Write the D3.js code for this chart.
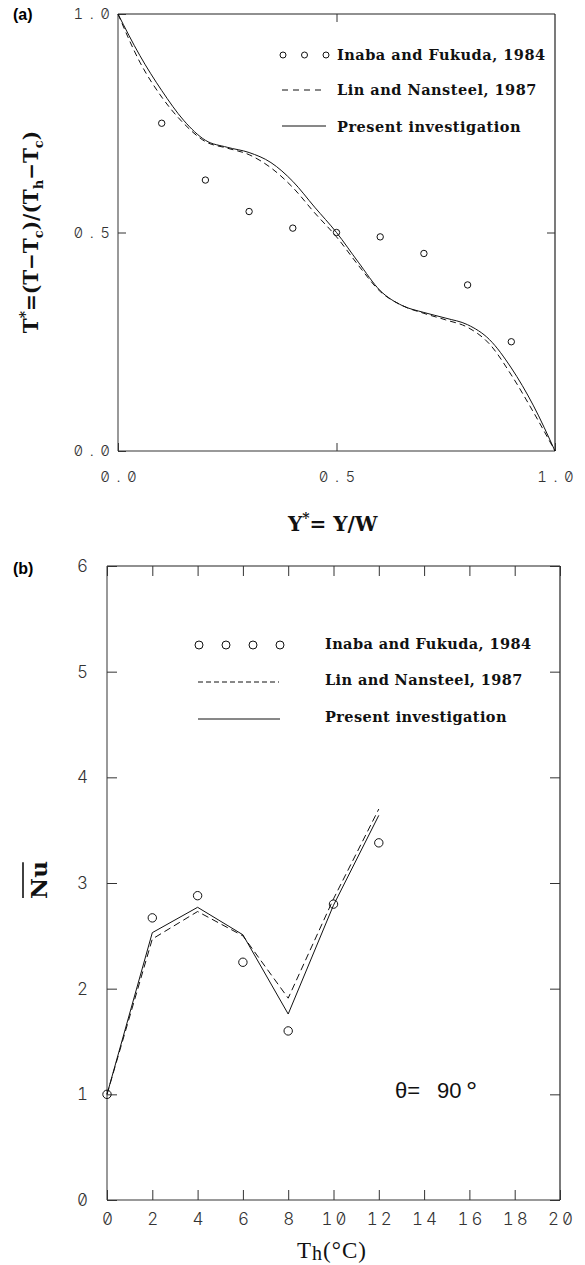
<!DOCTYPE html>
<html>
<head>
<meta charset="utf-8">
<script src="https://d3js.org/d3.v7.min.js"></script>
<style>
  body { margin: 0; background: #fff; }
  .tick text { font-family: Inter, "Noto Sans", sans-serif; font-weight: 300; fill: #333;
               font-variant-numeric: tabular-nums slashed-zero; font-feature-settings: "zero" 1, "tnum" 1; }
  .lbl { font-family: "DejaVu Serif", serif; font-weight: bold; fill: #111; }
</style>
</head>
<body>
<div id="chart-area"></div>
<script>
// ---- data, panel (a): temperature profile
var seriesNames = ["Inaba and Fukuda, 1984", "Lin and Nansteel, 1987", "Present investigation"];

var aX      = [0, 0.05, 0.1, 0.15, 0.2, 0.25, 0.3, 0.35, 0.4, 0.45, 0.5, 0.55, 0.6, 0.65, 0.7, 0.75, 0.8, 0.85, 0.9, 0.95, 1.0];
var aSolid  = [1.0, 0.905, 0.825, 0.757, 0.711, 0.695, 0.683, 0.660, 0.617, 0.558, 0.50, 0.432, 0.367, 0.333, 0.317, 0.304, 0.289, 0.255, 0.190, 0.105, 0.0];
var aDashed = [1.0, 0.890, 0.810, 0.750, 0.708, 0.693, 0.678, 0.648, 0.603, 0.545, 0.49, 0.425, 0.365, 0.333, 0.315, 0.300, 0.283, 0.245, 0.174, 0.090, 0.0];
var aExpX   = [0.1, 0.2, 0.3, 0.4, 0.5, 0.6, 0.7, 0.8, 0.9];
var aExp    = [0.75, 0.62, 0.548, 0.51, 0.50, 0.49, 0.452, 0.38, 0.25];
var aTicks  = [0, 0.5, 1];

// ---- data, panel (b): mean Nusselt number vs Th
var bX      = [0, 2, 4, 6, 8, 10, 12];
var bSolid  = [1.0, 2.53, 2.77, 2.51, 1.76, 2.79, 3.64];
var bDashed = [1.0, 2.47, 2.73, 2.50, 1.91, 2.85, 3.70];
var bExp    = [1.0, 2.67, 2.88, 2.25, 1.60, 2.80, 3.38];
var bXTicks = [0, 2, 4, 6, 8, 10, 12, 14, 16, 18, 20];
var bYTicks = [0, 1, 2, 3, 4, 5, 6];

var svg = d3.select("#chart-area")
    .append("svg")
        .attr("width", 585)
        .attr("height", 1265);

function zip(xs, ys) {
    return xs.map(function(x, i) { return [x, ys[i]]; });
}

function frame(x, y) {
    var x0 = x.range()[0], x1 = x.range()[1], y0 = y.range()[0], y1 = y.range()[1];
    svg.append("line").attr("x1", x0).attr("x2", x1).attr("y1", y0).attr("y2", y0)
        .attr("stroke", "#777").attr("stroke-width", 1.5);
    svg.append("line").attr("x1", x0).attr("x2", x0).attr("y1", y0).attr("y2", y1)
        .attr("stroke", "#777").attr("stroke-width", 1.5);
    svg.append("line").attr("x1", x0).attr("x2", x1).attr("y1", y1).attr("y2", y1)
        .attr("stroke", "#222").attr("stroke-width", 1.2);
    svg.append("line").attr("x1", x1).attr("x2", x1).attr("y1", y0).attr("y2", y1)
        .attr("stroke", "#222").attr("stroke-width", 1.2);
}

function styleTicks(g) {
    g.select(".domain").remove();
    g.selectAll(".tick line").attr("stroke", "#333");
}

/* ================= Panel (a) ================= */
var xA = d3.scaleLinear().domain([0, 1]).range([118, 555]);
var yA = d3.scaleLinear().domain([0, 1]).range([451, 14]);
var fmtA = d3.format(".1f");

frame(xA, yA);

svg.append("g")
    .attr("transform", "translate(0, 451)")
    .call(d3.axisBottom(xA).tickValues(aTicks).tickSizeInner(-8).tickSizeOuter(0).tickPadding(20).tickFormat(fmtA))
    .call(styleTicks)
    .selectAll("text").attr("font-size", 15).attr("letter-spacing", 6.5).attr("dx", 3.2);
svg.append("g")
    .attr("transform", "translate(118, 0)")
    .call(d3.axisLeft(yA).tickValues(aTicks).tickSizeInner(-8).tickSizeOuter(0).tickPadding(1.5).tickFormat(fmtA))
    .call(styleTicks)
    .selectAll("text").attr("font-size", 15).attr("letter-spacing", 6.5);
svg.append("g")
    .attr("transform", "translate(0, 14)")
    .call(d3.axisTop(xA).tickValues([0.5]).tickSizeInner(-8).tickSizeOuter(0).tickFormat(""))
    .call(styleTicks);
svg.append("g")
    .attr("transform", "translate(555, 0)")
    .call(d3.axisRight(yA).tickValues([0.5]).tickSizeInner(-8).tickSizeOuter(0).tickFormat(""))
    .call(styleTicks);

var lineA = d3.line()
    .x(function(d) { return xA(d[0]); })
    .y(function(d) { return yA(d[1]); })
    .curve(d3.curveMonotoneX);

svg.append("path")
    .attr("d", lineA(zip(aX, aDashed)))
    .attr("fill", "none").attr("stroke", "#111").attr("stroke-width", 1)
    .attr("stroke-dasharray", "6,4");
svg.append("path")
    .attr("d", lineA(zip(aX, aSolid)))
    .attr("fill", "none").attr("stroke", "#111").attr("stroke-width", 1);

svg.selectAll(".expA")
    .data(zip(aExpX, aExp))
    .enter().append("circle")
    .attr("class", "expA")
    .attr("cx", function(d) { return xA(d[0]); })
    .attr("cy", function(d) { return yA(d[1]); })
    .attr("r", 3.2)
    .attr("fill", "none").attr("stroke", "#111").attr("stroke-width", 1);

// legend (a)
[283, 304.5, 326].forEach(function(cx) {
    svg.append("circle").attr("cx", cx).attr("cy", 55).attr("r", 3)
        .attr("fill", "none").attr("stroke", "#111");
});
svg.append("line").attr("x1", 282).attr("x2", 323).attr("y1", 90).attr("y2", 90)
    .attr("stroke", "#111").attr("stroke-dasharray", "6,5");
svg.append("line").attr("x1", 282).attr("x2", 326).attr("y1", 126).attr("y2", 126)
    .attr("stroke", "#111");
seriesNames.forEach(function(name, i) {
    svg.append("text")
        .attr("class", "lbl")
        .attr("x", 337)
        .attr("y", [55, 90, 127][i])
        .attr("dy", "0.36em")
        .attr("font-size", 14.5)
        .attr("letter-spacing", 0.5)
        .text(name);
});

// axis labels (a)
var yLabelA = svg.append("text")
    .attr("class", "lbl")
    .attr("transform", "translate(38, 232) rotate(-90)")
    .attr("text-anchor", "middle")
    .attr("font-size", 20);
yLabelA.append("tspan").text("T");
yLabelA.append("tspan").attr("dy", -8).attr("font-size", 14).text("*");
yLabelA.append("tspan").attr("dy", 8).text("=(T\u2212T");
yLabelA.append("tspan").attr("dy", 5).attr("font-size", 13).text("c");
yLabelA.append("tspan").attr("dy", -5).text(")/(T");
yLabelA.append("tspan").attr("dy", 5).attr("font-size", 13).text("h");
yLabelA.append("tspan").attr("dy", -5).text("\u2212T");
yLabelA.append("tspan").attr("dy", 5).attr("font-size", 13).text("c");
yLabelA.append("tspan").attr("dy", -5).text(")");

var xLabelA = svg.append("text")
    .attr("class", "lbl")
    .attr("x", 288)
    .attr("y", 531)
    .attr("font-size", 20);
xLabelA.append("tspan").text("Y");
xLabelA.append("tspan").attr("dy", -8).attr("font-size", 14).text("*");
xLabelA.append("tspan").attr("dy", 8).text("= Y/W");

svg.append("text")
    .attr("x", 13).attr("y", 20)
    .attr("font-family", "Liberation Sans, Arial, sans-serif")
    .attr("font-weight", "bold").attr("font-size", 16)
    .text("(a)");

/* ================= Panel (b) ================= */
var xB = d3.scaleLinear().domain([0, 20]).range([107, 560]);
var yB = d3.scaleLinear().domain([0, 6]).range([1200, 566]);
var fmtB = d3.format("d");

frame(xB, yB);

svg.append("g")
    .attr("transform", "translate(0, 1200)")
    .call(d3.axisBottom(xB).tickValues(bXTicks).tickSizeInner(-10).tickSizeOuter(0).tickPadding(13).tickFormat(fmtB))
    .call(styleTicks)
    .selectAll("text").attr("font-size", 17).attr("letter-spacing", 3).attr("dx", 1.5);
svg.append("g")
    .attr("transform", "translate(107, 0)")
    .call(d3.axisLeft(yB).tickValues(bYTicks).tickSizeInner(-10).tickSizeOuter(0).tickPadding(16).tickFormat(fmtB))
    .call(styleTicks)
    .selectAll("text").attr("font-size", 17).attr("letter-spacing", 3);
svg.append("g")
    .attr("transform", "translate(0, 566)")
    .call(d3.axisTop(xB).tickValues(bXTicks).tickSizeInner(-10).tickSizeOuter(0).tickFormat(""))
    .call(styleTicks);
svg.append("g")
    .attr("transform", "translate(560, 0)")
    .call(d3.axisRight(yB).tickValues(bYTicks).tickSizeInner(-10).tickSizeOuter(0).tickFormat(""))
    .call(styleTicks);

var lineB = d3.line()
    .x(function(d) { return xB(d[0]); })
    .y(function(d) { return yB(d[1]); });

svg.append("path")
    .attr("d", lineB(zip(bX, bDashed)))
    .attr("fill", "none").attr("stroke", "#111").attr("stroke-width", 1)
    .attr("stroke-dasharray", "7,4");
svg.append("path")
    .attr("d", lineB(zip(bX, bSolid)))
    .attr("fill", "none").attr("stroke", "#111").attr("stroke-width", 1);

svg.selectAll(".expB")
    .data(zip(bX, bExp))
    .enter().append("circle")
    .attr("class", "expB")
    .attr("cx", function(d) { return xB(d[0]); })
    .attr("cy", function(d) { return yB(d[1]); })
    .attr("r", 4.2)
    .attr("fill", "none").attr("stroke", "#111").attr("stroke-width", 1);

// legend (b)
[199, 226, 253, 280].forEach(function(cx) {
    svg.append("circle").attr("cx", cx).attr("cy", 645).attr("r", 4)
        .attr("fill", "none").attr("stroke", "#111");
});
svg.append("line").attr("x1", 198).attr("x2", 279).attr("y1", 682).attr("y2", 682)
    .attr("stroke", "#111").attr("stroke-dasharray", "5,3");
svg.append("line").attr("x1", 198).attr("x2", 280).attr("y1", 719).attr("y2", 719)
    .attr("stroke", "#111");
seriesNames.forEach(function(name, i) {
    svg.append("text")
        .attr("class", "lbl")
        .attr("x", 325)
        .attr("y", [644, 680, 717][i])
        .attr("dy", "0.36em")
        .attr("font-size", 14.5)
        .attr("letter-spacing", 0.4)
        .text(name);
});

// theta label
var theta = svg.append("text")
    .attr("y", 1098)
    .attr("font-family", "Liberation Sans, Arial, sans-serif")
    .attr("font-size", 22).attr("fill", "#111");
theta.append("tspan").attr("x", 395).text("\u03b8=");
theta.append("tspan").attr("x", 437).text("90");
theta.append("tspan").attr("x", 466).attr("dy", 3).attr("font-size", 28).attr("font-weight", 300).text("\u00b0");

// axis labels (b)
var nu = svg.append("text")
    .attr("class", "lbl")
    .attr("transform", "translate(47, 880) rotate(-90)")
    .attr("text-anchor", "middle")
    .attr("font-size", 23)
    .text("Nu");
var nb = nu.node().getBBox();
svg.append("line")
    .attr("transform", "translate(47, 880) rotate(-90)")
    .attr("x1", nb.x + 1).attr("x2", nb.x + nb.width - 1)
    .attr("y1", -24).attr("y2", -24)
    .attr("stroke", "#111").attr("stroke-width", 1.6);

var xLabelB = svg.append("text")
    .attr("x", 297).attr("y", 1258)
    .attr("font-family", "Liberation Serif, serif")
    .attr("font-size", 23).attr("letter-spacing", 1).attr("fill", "#111");
xLabelB.append("tspan").text("T");
xLabelB.append("tspan").attr("dy", 2).attr("font-size", 20).text("h");
xLabelB.append("tspan").attr("dy", -2).text("(\u00b0C)");

svg.append("text")
    .attr("x", 13).attr("y", 574)
    .attr("font-family", "Liberation Sans, Arial, sans-serif")
    .attr("font-weight", "bold").attr("font-size", 16)
    .text("(b)");
</script>
</body>
</html>
